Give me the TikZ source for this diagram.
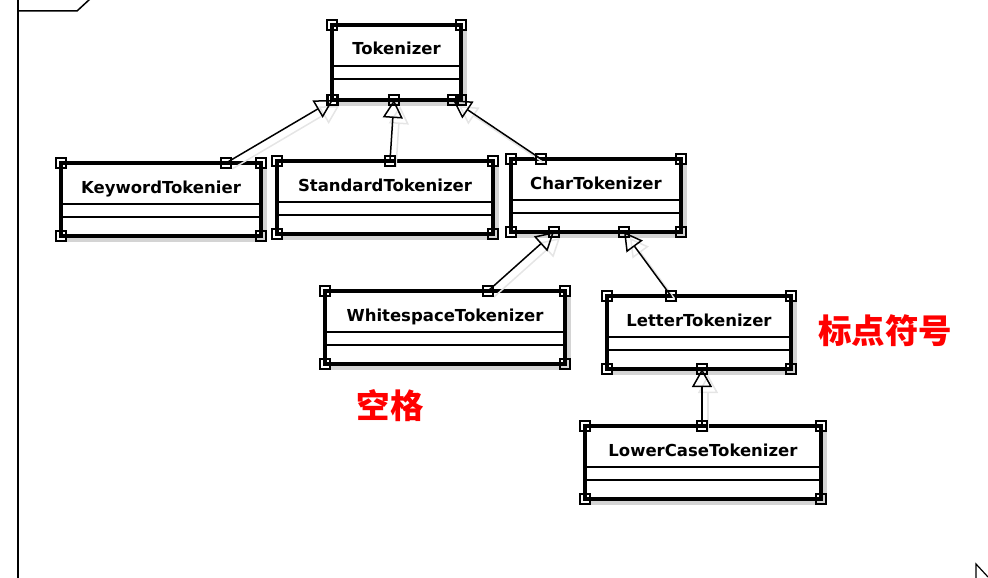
\documentclass[tikz,border=0pt]{standalone}
\usepackage{fontspec}
\newfontfamily\umlfont{DejaVu Sans}
\newfontfamily\cjk{Noto Sans CJK SC}
\usetikzlibrary{arrows.meta,shadows}

\tikzset{
    cls/.style={draw, line width=3.2pt, fill=white, outer sep=0pt, inner sep=0pt,
        anchor=north west, minimum height=73pt,
        drop shadow={shadow xshift=6pt, shadow yshift=-6pt, fill=black!17, opacity=1}},
    sep/.style={line width=1.8pt},
    handle/.style={draw, line width=1.6pt, minimum size=10pt, inner sep=0pt},
    clsname/.style={anchor=base, font=\umlfont\bfseries\fontsize{16.5}{18}\selectfont},
    gen/.style={line width=1.5pt, -{Triangle[open, length=18pt, width=20pt, line width=1.5pt]}},
    genshadow/.style={gen, draw=black!10, transform canvas={xshift=6pt, yshift=-6pt}},
    note/.style={text=red, font=\cjk\bfseries\fontsize{33.5}{36}\selectfont}
}

\newcommand{\classparts}[2]{%
    \node[clsname] (#1name) at ([yshift=-30pt]#1.north) {#2};
    \draw[sep] ([yshift=-41pt]#1.north west) -- ([yshift=-41pt]#1.north east);
    \draw[sep] ([yshift=-54pt]#1.north west) -- ([yshift=-54pt]#1.north east);
    \foreach \c in {north west,north east,south west,south east}
        \node[handle] at (#1.\c) {};
}

\begin{document}
\begin{tikzpicture}[x=1pt,y=-1pt]
        \useasboundingbox (0,0) rectangle (988,578);
        % frame
        \draw[line width=1.5pt] (18,578) -- (18,0);
        \draw[line width=1.5pt] (18,11) -- (77,11) -- (90,-1);
        \draw[line width=1.2pt] (976,578) -- (976,564) -- (988,577);

        % classes
        \node[cls, minimum width=129pt, minimum height=75pt] (tok) at (332,25) {};
        \node[cls, minimum width=200pt] (kw) at (61,163) {};
        \node[cls, minimum width=216pt] (std) at (277,161) {};
        \node[cls, minimum width=170pt] (chr) at (511,159) {};
        \node[cls, minimum width=240pt] (ws) at (325,291) {};
        \node[cls, minimum width=184pt] (let) at (607,296) {};
        \node[cls, minimum width=236pt] (low) at (585,426) {};

        \classparts{tok}{Tokenizer}
        \classparts{kw}{KeywordTokenier}
        \classparts{std}{StandardTokenizer}
        \classparts{chr}{CharTokenizer}
        \classparts{ws}{WhitespaceTokenizer}
        \classparts{let}{LetterTokenizer}
        \classparts{low}{LowerCaseTokenizer}

        % attachment points
        \coordinate (kwup) at ([xshift=165pt]kw.north west);
        \coordinate (stdup) at ([xshift=113pt]std.north west);
        \coordinate (chrup) at ([xshift=30pt]chr.north west);
        \coordinate (wsup) at ([xshift=163pt]ws.north west);
        \coordinate (letup) at ([xshift=64pt]let.north west);
        \coordinate (lowup) at ([xshift=117pt]low.north west);
        \coordinate (tokA) at ([xshift=1pt]tok.south west);
        \coordinate (tokB) at ([xshift=62pt]tok.south west);
        \coordinate (tokC) at ([xshift=121pt]tok.south west);
        \coordinate (chrA) at ([xshift=43pt]chr.south west);
        \coordinate (chrB) at ([xshift=113pt]chr.south west);
        \coordinate (letA) at ([xshift=95pt]let.south west);

        % generalizations
        \foreach \a/\b in {kwup/tokA, stdup/tokB, chrup/tokC, wsup/chrA, letup/chrB, lowup/letA}{
            \draw[genshadow] (\a) -- (\b);
            \draw[gen] (\a) -- (\b);
            \node[handle] at (\a) {};
            \node[handle] at (\b) {};
        }

        % notes
        \node[note] (space) at (390,406) {空格};
        \node[note] (punct) at (885,331) {标点符号};
\end{tikzpicture}
\end{document}
